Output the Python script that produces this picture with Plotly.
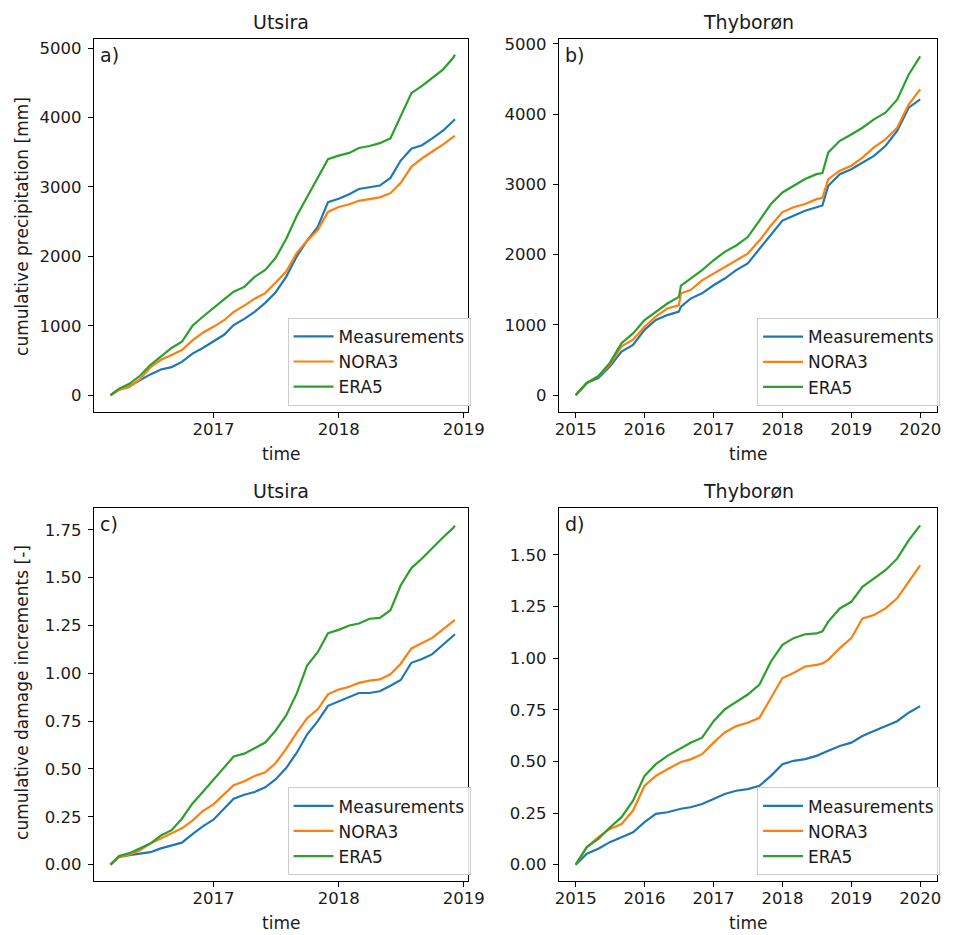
import plotly.graph_objects as go

# ---------------- data ----------------
dates_utsira = ["2016-03-07", "2016-04-01", "2016-05-01", "2016-06-01", "2016-07-01", "2016-08-01",
                "2016-09-01", "2016-10-01", "2016-11-01", "2016-12-01", "2017-01-01", "2017-02-01",
                "2017-03-01", "2017-04-01", "2017-05-01", "2017-06-01", "2017-07-01", "2017-08-01",
                "2017-09-01", "2017-10-01", "2017-11-01", "2017-12-01", "2018-01-01", "2018-02-01",
                "2018-03-01", "2018-04-01", "2018-05-01", "2018-06-01", "2018-07-01", "2018-08-01",
                "2018-09-01", "2018-10-01", "2018-11-01", "2018-12-01", "2018-12-06"]

utsira_precip_meas = [0, 80, 130, 215, 300, 370, 405, 480, 600, 680, 780, 870, 1010, 1100, 1200, 1330, 1480,
                      1705, 2000, 2225, 2425, 2780, 2830, 2895, 2970, 2995, 3020, 3130, 3380, 3550, 3600,
                      3700, 3810, 3950, 3975]
utsira_precip_nora3 = [0, 80, 120, 230, 400, 510, 580, 650, 790, 900, 985, 1080, 1200, 1290, 1390, 1470, 1620,
                       1780, 2050, 2225, 2380, 2640, 2710, 2750, 2800, 2830, 2850, 2910, 3060, 3290, 3410,
                       3510, 3610, 3720, 3735]
utsira_precip_era5 = [0, 95, 165, 280, 435, 560, 680, 770, 1000, 1130, 1260, 1380, 1490, 1560, 1705, 1805, 1975,
                      2250, 2585, 2860, 3140, 3400, 3450, 3490, 3560, 3590, 3630, 3700, 4020, 4350, 4455,
                      4575, 4690, 4860, 4905]

utsira_damage_meas = [0, 0.04, 0.05, 0.058, 0.065, 0.085, 0.1, 0.115, 0.16, 0.2, 0.235, 0.29, 0.345, 0.365,
                      0.38, 0.404, 0.445, 0.505, 0.585, 0.68, 0.75, 0.83, 0.854, 0.875, 0.897, 0.897, 0.906,
                      0.935, 0.965, 1.055, 1.075, 1.10, 1.15, 1.195, 1.204]
utsira_damage_nora3 = [0, 0.042, 0.052, 0.075, 0.11, 0.137, 0.16, 0.19, 0.23, 0.28, 0.315, 0.37, 0.415, 0.436,
                       0.463, 0.483, 0.53, 0.605, 0.69, 0.765, 0.812, 0.89, 0.915, 0.93, 0.95, 0.962, 0.968,
                       0.995, 1.05, 1.13, 1.157, 1.185, 1.23, 1.27, 1.279]
utsira_damage_era5 = [0, 0.045, 0.06, 0.085, 0.11, 0.152, 0.18, 0.24, 0.32, 0.38, 0.445, 0.51, 0.565, 0.58,
                      0.61, 0.638, 0.70, 0.78, 0.895, 1.04, 1.11, 1.21, 1.227, 1.25, 1.26, 1.285, 1.29, 1.33,
                      1.46, 1.55, 1.60, 1.655, 1.71, 1.76, 1.772]

dates_thyboron = ["2015-01-01", "2015-03-01", "2015-05-01", "2015-07-01", "2015-09-01", "2015-11-01",
                  "2016-01-01", "2016-03-01", "2016-05-01", "2016-07-01", "2016-07-12", "2016-09-01",
                  "2016-11-01", "2017-01-01", "2017-03-01", "2017-05-01", "2017-07-01", "2017-09-01",
                  "2017-11-01", "2018-01-01", "2018-03-01", "2018-05-01", "2018-07-01", "2018-08-01",
                  "2018-09-01", "2018-11-01", "2019-01-01", "2019-03-01", "2019-05-01", "2019-07-01",
                  "2019-09-01", "2019-11-01", "2020-01-01"]

thyboron_precip_meas = [0, 175, 245, 410, 620, 715, 930, 1070, 1140, 1190, 1260, 1375, 1450, 1565, 1660, 1780,
                        1875, 2085, 2295, 2485, 2555, 2625, 2675, 2700, 2980, 3145, 3215, 3310, 3405, 3545,
                        3760, 4090, 4210]
thyboron_precip_nora3 = [0, 175, 270, 435, 695, 790, 975, 1120, 1235, 1280, 1450, 1495, 1635, 1730, 1825, 1920,
                         2015, 2200, 2415, 2605, 2675, 2720, 2790, 2810, 3075, 3195, 3265, 3380, 3525, 3640,
                         3805, 4135, 4350]
thyboron_precip_era5 = [0, 175, 270, 460, 740, 880, 1070, 1190, 1305, 1400, 1560, 1660, 1780, 1920, 2040, 2130,
                        2250, 2485, 2720, 2885, 2980, 3075, 3145, 3160, 3455, 3620, 3710, 3805, 3925, 4020,
                        4205, 4560, 4820]

thyboron_damage_meas = [0, 0.053, 0.077, 0.109, 0.133, 0.157, 0.206, 0.246, 0.254, 0.27, 0.271, 0.278, 0.294,
                        0.318, 0.342, 0.358, 0.366, 0.382, 0.43, 0.487, 0.503, 0.511, 0.527, 0.54, 0.551, 0.575,
                        0.591, 0.623, 0.647, 0.671, 0.695, 0.736, 0.768]
thyboron_damage_nora3 = [0, 0.085, 0.133, 0.173, 0.197, 0.262, 0.382, 0.43, 0.462, 0.495, 0.497, 0.51, 0.535,
                         0.591, 0.64, 0.671, 0.687, 0.711, 0.808, 0.904, 0.928, 0.96, 0.968, 0.975, 0.992, 1.049,
                         1.097, 1.193, 1.209, 1.241, 1.29, 1.37, 1.45]
thyboron_damage_era5 = [0, 0.085, 0.125, 0.18, 0.23, 0.31, 0.43, 0.487, 0.527, 0.56, 0.565, 0.59, 0.615, 0.695,
                        0.752, 0.79, 0.824, 0.872, 0.984, 1.065, 1.097, 1.116, 1.12, 1.13, 1.177, 1.241, 1.273,
                        1.346, 1.386, 1.426, 1.482, 1.571, 1.643]

series_names = ["Measurements", "NORA3", "ERA5"]
panel_titles = ["Utsira", "Thyborøn", "Utsira", "Thyborøn"]
panel_labels = ["a)", "b)", "c)", "d)"]
y_titles = ["cumulative precipitation [mm]", "cumulative damage increments [-]"]
x_title = "time"

# ---------------- styling ----------------
W, H = 960, 935
colors = ["#1f77b4", "#ff7f0e", "#2ca02c"]
FONT = "DejaVu Sans"
TXT = "#1a1a1a"


def px(x):
    return x / W


def py(y):
    return 1 - y / H


# pixel boxes of each axes (left, right, top, bottom)
boxes = [(91.7, 474.0, 34.0, 409.0), (567.3, 954.0, 34.3, 409.3),
         (91.7, 474.0, 505.7, 881.0), (567.3, 954.0, 506.0, 881.0)]

panels = [
    (dates_utsira, [utsira_precip_meas, utsira_precip_nora3, utsira_precip_era5]),
    (dates_thyboron, [thyboron_precip_meas, thyboron_precip_nora3, thyboron_precip_era5]),
    (dates_utsira, [utsira_damage_meas, utsira_damage_nora3, utsira_damage_era5]),
    (dates_thyboron, [thyboron_damage_meas, thyboron_damage_nora3, thyboron_damage_era5]),
]

xranges = [["2016-01-18", "2019-01-12"], ["2014-10-04", "2020-03-31"],
           ["2016-01-18", "2019-01-12"], ["2014-10-04", "2020-03-31"]]
yranges = [[-239, 5133], [-240, 5066], [-0.087, 1.864], [-0.0805, 1.726]]
ydticks = [1000, 1000, 0.25, 0.25]
yformats = ["d", "d", ".2f", ".2f"]

fig = go.Figure()
layout = dict(width=W, height=H, margin=dict(l=0, r=0, t=0, b=0),
              paper_bgcolor="white", plot_bgcolor="white",
              font=dict(family=FONT, size=16.5, color=TXT))
annotations = []

for i, (dates, ys) in enumerate(panels):
    n = i + 1
    xa = "x" if n == 1 else f"x{n}"
    ya = "y" if n == 1 else f"y{n}"
    lg = "legend" if n == 1 else f"legend{n}"
    for s, name in enumerate(series_names):
        fig.add_trace(go.Scatter(x=dates, y=ys[s], mode="lines", name=name,
                                 line=dict(color=colors[s], width=2.2),
                                 xaxis=xa, yaxis=ya, legend=lg, showlegend=True))
    l, r, t, b = boxes[i]
    axcommon = dict(showline=True, linecolor="black", linewidth=1, mirror=True,
                    ticks="outside", ticklen=5, tickwidth=1, tickcolor="black",
                    showgrid=False, zeroline=False,
                    tickfont=dict(family=FONT, size=16.5, color=TXT))
    layout["xaxis" if n == 1 else f"xaxis{n}"] = dict(
        domain=[px(l), px(r)], anchor=ya, type="date", range=xranges[i],
        dtick="M12", tick0="2015-01-01", tickformat="%Y", ticklabelstandoff=-3, **axcommon)
    layout["yaxis" if n == 1 else f"yaxis{n}"] = dict(
        domain=[py(b), py(t)], anchor=xa, range=yranges[i],
        dtick=ydticks[i], tick0=0, tickformat=yformats[i], ticklabelstandoff=3, **axcommon)
    layout[lg] = dict(x=px(r + 3), y=py(b - 6), xanchor="right", yanchor="bottom",
                      bgcolor="rgba(255,255,255,0.85)", bordercolor="#cccccc", borderwidth=1,
                      itemwidth=40,
                      font=dict(family=FONT, size=17, color=TXT), tracegroupgap=0)
    cx = (l + r) / 2
    # panel title
    annotations.append(dict(text=panel_titles[i], x=px(cx), y=py(t - 17), xref="paper", yref="paper",
                            xanchor="center", yanchor="middle", showarrow=False,
                            font=dict(family=FONT, size=19, color=TXT)))
    # panel label
    annotations.append(dict(text=panel_labels[i], x=px(l + 4), y=py(t + 3), xref="paper", yref="paper",
                            xanchor="left", yanchor="top", showarrow=False,
                            font=dict(family=FONT, size=19, color=TXT)))
    # x title
    annotations.append(dict(text=x_title, x=px(cx), y=py(b + 42), xref="paper", yref="paper",
                            xanchor="center", yanchor="middle", showarrow=False,
                            font=dict(family=FONT, size=17, color=TXT)))

# y titles
annotations.append(dict(text=y_titles[0], x=px(19), y=py(222.5), xref="paper", yref="paper",
                        xanchor="center", yanchor="middle", textangle=-90, showarrow=False,
                        font=dict(family=FONT, size=17, color=TXT)))
annotations.append(dict(text=y_titles[1], x=px(19), y=py(691), xref="paper", yref="paper",
                        xanchor="center", yanchor="middle", textangle=-90, showarrow=False,
                        font=dict(family=FONT, size=17, color=TXT)))

layout["annotations"] = annotations
fig.update_layout(**layout)
fig.write_html("out.html")
